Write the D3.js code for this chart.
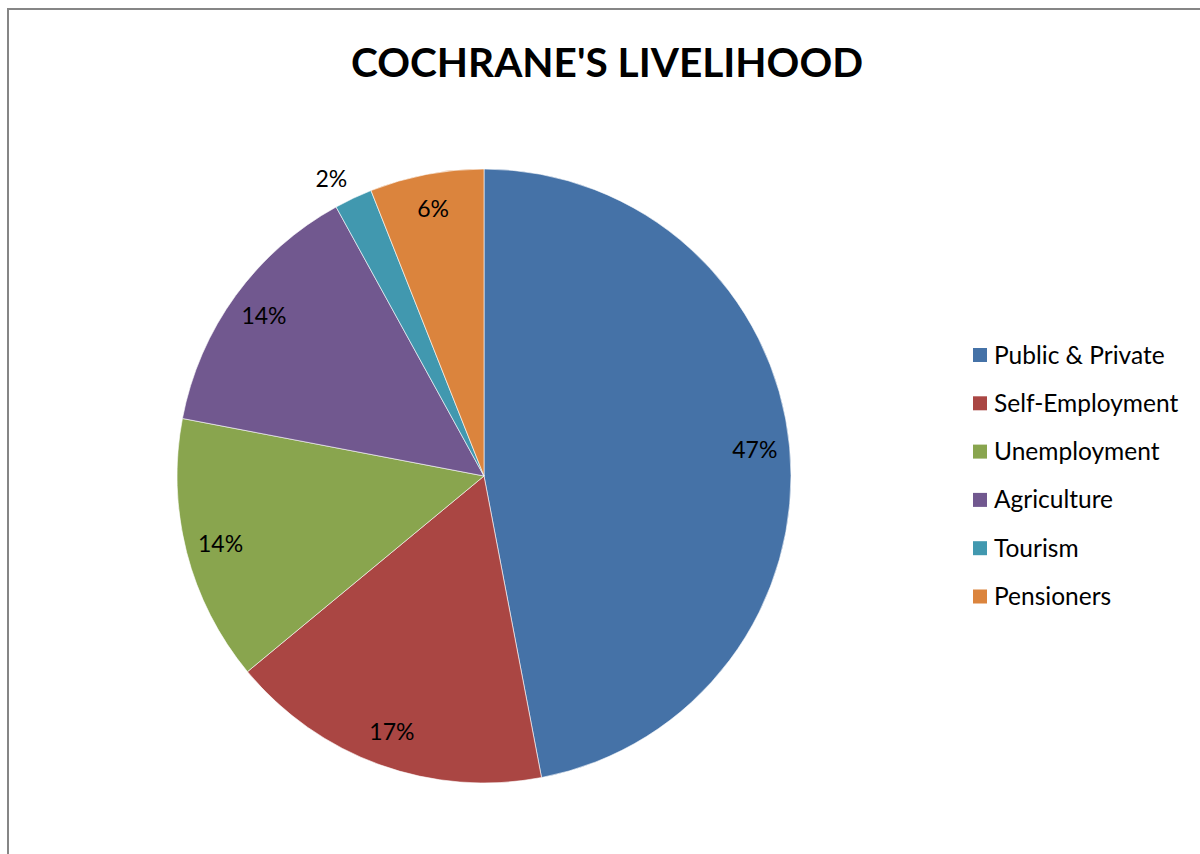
<!DOCTYPE html>
<html><head><meta charset="utf-8">
<script src="https://cdn.jsdelivr.net/npm/d3@7"></script>
<style>body{margin:0;background:#fff;} svg{display:block;}</style>
</head><body>
<svg id="chart" width="1200" height="854"></svg>
<script>
const categories = ["Public & Private","Self-Employment","Unemployment","Agriculture","Tourism","Pensioners"];
const values = [47, 17, 14, 14, 2, 6];
const colors = ["#4572A7","#AA4643","#89A54E","#71588F","#4198AF","#DB843D"];
const title = "COCHRANE'S LIVELIHOOD";

const svg = d3.select("#chart");
const font = "Lato, 'Open Sans', sans-serif";

// frame
svg.append("path").attr("d","M8,854 L8,9 L1200,9").attr("fill","none").attr("stroke","#868686").attr("stroke-width",2);

svg.append("text").attr("x",607).attr("y",77).attr("text-anchor","middle")
  .attr("font-family",font).attr("font-weight","bold").attr("font-size",40.6).attr("fill","#000").text(title);

const cx = 484, cy = 476, R = 307;
const data = categories.map((c,i)=>({name:c,value:values[i],color:colors[i]}));
const pie = d3.pie().value(d=>d.value).sort(null);
const arcs = pie(data);
const arc = d3.arc().innerRadius(0).outerRadius(R);
const g = svg.append("g").attr("transform",`translate(${cx},${cy})`);
g.selectAll("path").data(arcs).join("path").attr("d",arc).attr("fill",d=>d.data.color)
  .attr("stroke","#fff").attr("stroke-width",0.6);

const total = d3.sum(values);
g.selectAll("text.lbl").data(arcs).join("text").attr("class","lbl")
  .attr("transform",d=>{
    const small = d.data.value/total < 0.04;
    const r = small ? 334 : 272;
    const a = (d.startAngle+d.endAngle)/2 - (small ? 0.035 : 0);
    return `translate(${r*Math.sin(a)},${-r*Math.cos(a)})`;
  })
  .attr("text-anchor","middle").attr("dy","0.35em")
  .attr("font-family",font).attr("font-size",23).attr("fill","#000")
  .text(d=>Math.round(d.data.value/total*100)+"%");

const leg = svg.append("g").attr("transform","translate(973,355)");
const rows = leg.selectAll("g").data(data).join("g").attr("transform",(d,i)=>`translate(0,${i*48.3})`);
rows.append("rect").attr("x",0).attr("y",-7).attr("width",14).attr("height",14).attr("fill",d=>d.color);
rows.append("text").attr("x",21).attr("dy","0.35em").attr("font-family",font).attr("font-size",24.5)
  .attr("fill","#000").text(d=>d.name);
</script>
</body></html>
